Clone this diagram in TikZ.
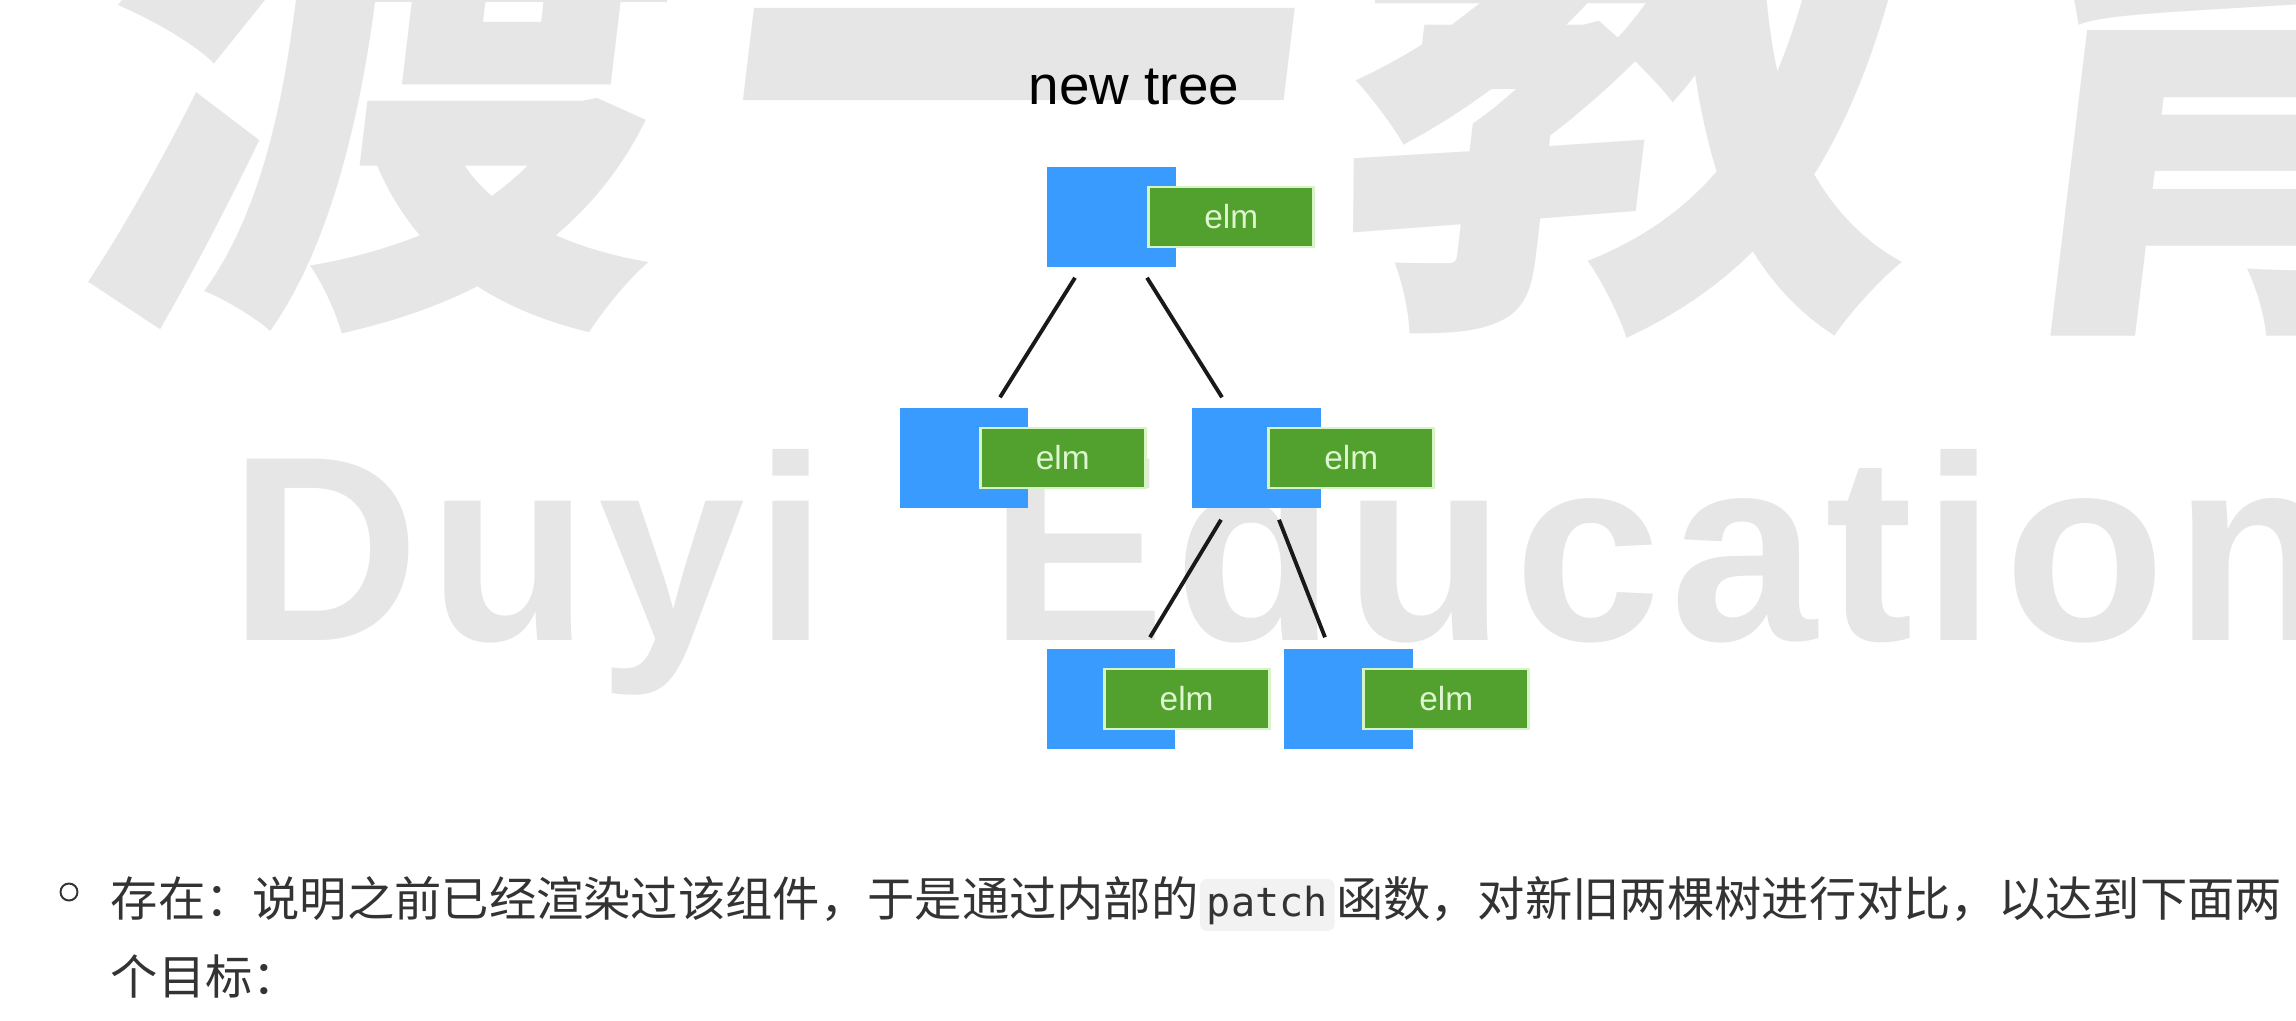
\documentclass[tikz,border=0pt]{standalone}
\usepackage{fontspec}
\setmainfont{Liberation Sans}
\setmonofont{DejaVu Sans Mono}
\newfontfamily\cjkfont{Noto Sans CJK SC}
\newfontfamily\markcjk[FakeSlant=0.12]{Noto Sans CJK SC}
\newfontfamily\marklatin[LetterSpace=3.4]{Liberation Sans}
\usetikzlibrary{
    positioning,
    calc
}
\definecolor{vblue}{RGB}{58, 155, 255}
\definecolor{elmgreen}{RGB}{82, 160, 45}
\definecolor{elmedge}{RGB}{214, 244, 196}
\definecolor{elmtext}{RGB}{222, 246, 208}
\definecolor{mark}{RGB}{230, 230, 231}
\definecolor{bodytext}{RGB}{51, 51, 51}
\definecolor{codebg}{RGB}{242, 242, 242}

\begin{document}
\begin{tikzpicture}[x=0.01cm, y=-0.01cm,
    vnode/.style={rectangle, fill=vblue, minimum width=1.28cm, minimum height=1cm, inner sep=0pt},
    elm/.style={rectangle, fill=elmgreen, draw=elmedge, line width=0.8pt, minimum width=1.65cm,
                minimum height=0.6cm, inner sep=0pt, text=elmtext, font=\fontsize{9.5}{11}\selectfont},
    link/.style={line width=1.1pt, black!90},
    body/.style={inner sep=0pt, anchor=base west, text=bodytext, font=\cjkfont\fontsize{13.45}{16}\selectfont},
    code/.style={fill=codebg, rounded corners=2pt, inner xsep=0.07cm, inner ysep=0pt, minimum height=0.52cm,
                 anchor=base west, text=bodytext, font=\ttfamily\fontsize{11.4}{14}\selectfont}
]
\useasboundingbox (0,0) rectangle (2296,1020);

% ============================================
% WATERMARK (background)
% ============================================
\begin{scope}
\clip (0,0) rectangle (2296,1020);
\foreach \ch/\x in {渡/363, 一/992, 教/1618, 育/2250} {
    \node[inner sep=0pt, anchor=base, text=mark, font=\markcjk\bfseries\fontsize{165}{165}\selectfont] at (\x, 280) {\ch};
}
\node[inner sep=0pt, anchor=base west, text=mark, font=\marklatin\bfseries\fontsize{75}{75}\selectfont] (wm1) at (229, 640) {Duyi};
\node[inner sep=0pt, anchor=base west, text=mark, font=\marklatin\bfseries\fontsize{75}{75}\selectfont] (wm2) at (989, 640) {Education};
\end{scope}

% Title
\node[anchor=base, font=\fontsize{15.6}{18}\selectfont] (title) at (1134, 104) {new tree};

% ============================================
% TREE NODES (blue vnode + green elm)
% ============================================
\node[vnode] (t) at (1111.5, 217) {};
\node[vnode] (ml) at (964, 458) {};
\node[vnode] (mr) at (1256.5, 458) {};
\node[vnode] (bl) at (1111, 699) {};
\node[vnode] (br) at (1348.5, 699) {};

\node[elm, right=-0.29cm of t] (t_elm) {elm};
\node[elm, right=-0.50cm of ml] (ml_elm) {elm};
\node[elm, right=-0.54cm of mr] (mr_elm) {elm};
\node[elm, right=-0.73cm of bl] (bl_elm) {elm};
\node[elm, right=-0.51cm of br] (br_elm) {elm};

% Links
\draw[link] ($(t.south)+(-36.5,10)$) -- ($(ml.north)+(36,-10)$);
\draw[link] ($(t.south)+(35.5,10)$) -- ($(mr.north)+(-34.5,-10)$);
\draw[link] ($(mr.south)+(-35.5,11)$) -- ($(bl.north)+(39,-11)$);
\draw[link] ($(mr.south)+(22.5,11)$) -- ($(br.north)+(-23.5,-11)$);

% ============================================
% TEXT BELOW
% ============================================
\node[circle, draw=bodytext, line width=0.55pt, minimum size=0.17cm, inner sep=0pt] (dot) at (69, 892) {};
\node[body] (l1a) at (110, 916) {存在：说明之前已经渲染过该组件，于是通过内部的};
\node[code] (patch) at (l1a.base east) {patch};
\node[body] (l1b) at (patch.base east) {函数，对新旧两棵树进行对比，以达到下面两};
\node[body] (l2) at (110, 994) {个目标：};

\end{tikzpicture}
\end{document}
